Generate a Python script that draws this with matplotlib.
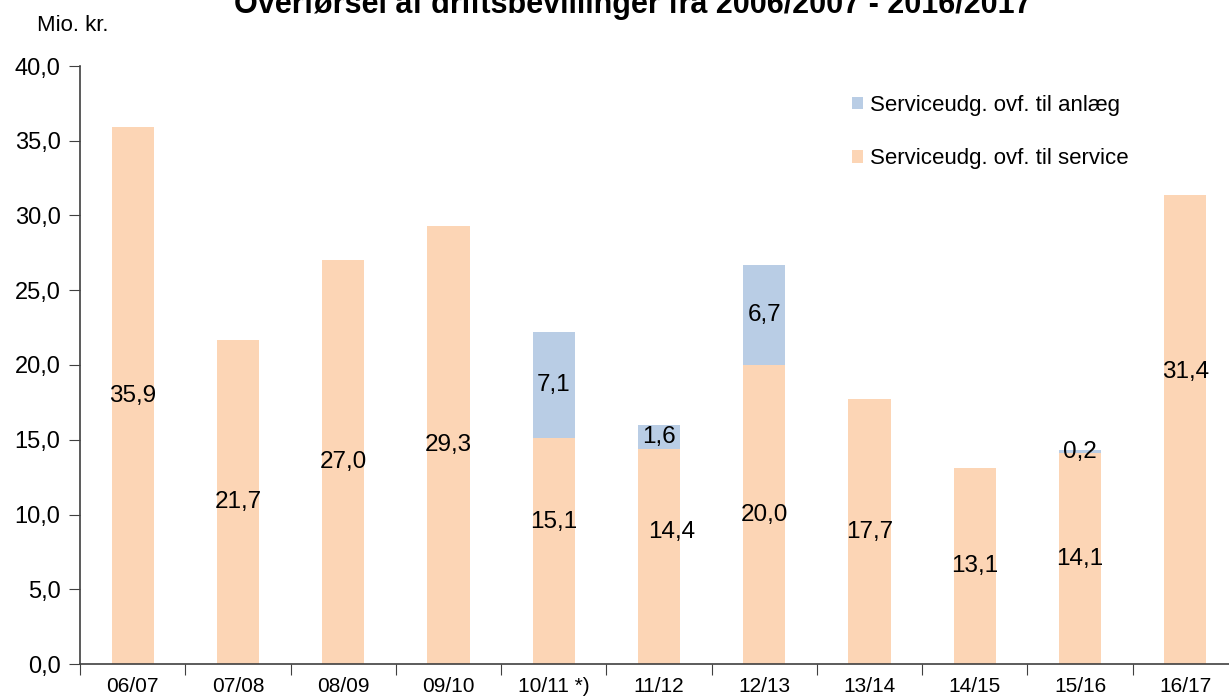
#!/usr/bin/env python3
"""Plot carry-over of operating appropriations 2006/2007 - 2016/2017."""

from __future__ import annotations

import argparse
from pathlib import Path

import numpy as np
import pandas as pd


YEARS = ["06/07", "07/08", "08/09", "09/10", "10/11 *)", "11/12", "12/13", "13/14", "14/15", "15/16", "16/17"]
SERVICE = [35.9, 21.7, 27.0, 29.3, 15.1, 14.4, 20.0, 17.7, 13.1, 14.1, 31.4]
ANLAEG = [0.0, 0.0, 0.0, 0.0, 7.1, 1.6, 6.7, 0.0, 0.0, 0.2, 0.0]
# labels that were dragged by hand in the original sheet: (dx, dy) in data units
LABEL_SHIFT = {"10/11 *)": (0.0, 1.95), "11/12": (0.12, 1.6), "16/17": (0.0, 3.8)}
SERVICE_COLOR = "#FCD5B5"
ANLAEG_COLOR = "#B9CDE5"


def fmt_dk(value: float) -> str:
    return f"{value:.1f}".replace(".", ",")


def main() -> None:
    parser = argparse.ArgumentParser()
    parser.add_argument("--output", type=Path, default=Path("out.png"))
    args = parser.parse_args()

    import matplotlib.pyplot as plt

    plt.rcParams["font.family"] = ["Liberation Sans", "DejaVu Sans"]

    df = pd.DataFrame({"year": YEARS, "service": SERVICE, "anlaeg": ANLAEG})
    x = np.arange(len(df))
    width = 0.40

    fig = plt.figure(figsize=(12.29, 6.99), dpi=100)
    ax = fig.add_axes([80 / 1229, 35 / 699, 1158 / 1229, 598 / 699])
    ax.bar(x, df["anlaeg"], width, bottom=df["service"], color=ANLAEG_COLOR,
           label="Serviceudg. ovf. til anlæg")
    ax.bar(x, df["service"], width, color=SERVICE_COLOR, label="Serviceudg. ovf. til service")

    for i, row in df.iterrows():
        dx, dy = LABEL_SHIFT.get(row["year"], (0.0, 0.0))
        ax.text(i + dx, row["service"] / 2 + dy, fmt_dk(row["service"]),
                ha="center", va="center", fontsize=17.5)
        if row["anlaeg"] > 0:
            ax.text(i, row["service"] + row["anlaeg"] / 2, fmt_dk(row["anlaeg"]),
                    ha="center", va="center", fontsize=17.5)

    ax.set_xlim(-0.5, len(df) - 0.5)
    ax.set_ylim(0, 40)
    ax.set_yticks(np.arange(0, 41, 5))
    ax.set_yticklabels([fmt_dk(v) for v in np.arange(0, 41, 5)], fontsize=17)
    ax.set_xticks(np.arange(-0.5, len(df), 1))
    ax.set_xticklabels([])
    ax.set_xticks(x, minor=True)
    ax.set_xticklabels(df["year"], minor=True, fontsize=15)
    ax.tick_params(axis="x", which="major", length=8, direction="out", color="#404040")
    ax.tick_params(axis="x", which="minor", length=0, pad=9.5)
    ax.tick_params(axis="y", length=8, direction="out", color="#404040", pad=6)
    for side in ["top", "right"]:
        ax.spines[side].set_visible(False)
    for side in ["left", "bottom"]:
        ax.spines[side].set_color("#404040")
        ax.spines[side].set_linewidth(1.2)

    ax.legend(loc="upper left", bbox_to_anchor=(752 / 1158, 0.985), frameon=False, fontsize=16,
              handlelength=0.5, handleheight=0.5, handletextpad=0.3, labelspacing=1.45)
    fig.text(37 / 1229, 1 - 31 / 699, "Mio. kr.", fontsize=16, va="baseline")
    fig.text(633 / 1229, 1 - 13 / 699, "Overførsel af driftsbevillinger fra 2006/2007 - 2016/2017",
             ha="center", va="baseline", fontsize=22, fontweight="bold")

    fig.savefig(args.output, dpi=100)
    plt.close(fig)


if __name__ == "__main__":
    main()
